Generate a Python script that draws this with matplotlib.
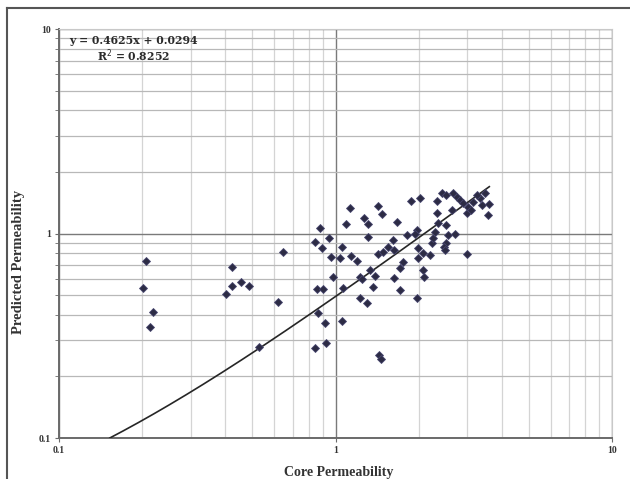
import matplotlib
matplotlib.use('Agg')
import matplotlib.pyplot as plt
import numpy as np
from matplotlib.lines import Line2D
from matplotlib.ticker import FixedLocator, NullFormatter

# data
core_k = [0.207, 0.202, 0.219, 0.213, 0.423, 0.423, 0.454, 0.487, 0.402, 0.647, 0.621, 0.530,
          0.843, 0.924, 1.44, 1.46, 0.867, 0.916, 1.053, 0.855, 0.903, 1.067, 0.982, 0.879,
          0.843, 0.950, 0.891, 0.963, 1.053, 1.038, 1.128, 1.091, 1.135, 1.193, 1.268, 1.308,
          1.42, 1.469, 1.314, 1.226, 1.244, 1.333, 1.389, 1.370, 1.226, 1.297, 1.428, 1.489,
          1.553, 1.618, 1.665, 1.632, 1.758, 1.711, 1.632, 1.711, 1.810, 1.875, 2.02, 1.966,
          1.939, 1.993, 1.993, 2.078, 2.197, 2.078, 2.09, 1.966, 2.23, 2.26, 2.29, 2.32,
          2.35, 2.32, 2.42, 2.52, 2.56, 2.52, 2.47, 2.49, 2.71, 2.63, 2.67, 2.74,
          2.82, 2.90, 2.98, 3.02, 3.15, 3.10, 3.33, 3.38, 3.47, 3.60, 3.57, 2.98,
          3.24, 2.52]
pred_k = [0.736, 0.540, 0.412, 0.350, 0.684, 0.553, 0.581, 0.553, 0.508, 0.815, 0.462, 0.279,
          0.276, 0.290, 0.255, 0.243, 0.407, 0.366, 0.373, 0.533, 0.533, 0.540, 0.611, 1.06,
          0.912, 0.947, 0.846, 0.770, 0.856, 0.756, 1.33, 1.109, 0.776, 0.736, 1.195, 1.113,
          1.367, 1.246, 0.965, 0.615, 0.597, 0.663, 0.620, 0.549, 0.482, 0.459, 0.794, 0.815,
          0.862, 0.929, 1.142, 0.830, 0.728, 0.676, 0.604, 0.529, 0.983, 1.446, 1.486, 1.04,
          0.991, 0.846, 0.756, 0.800, 0.785, 0.663, 0.615, 0.482, 0.896, 0.947, 1.02, 1.255,
          1.12, 1.446, 1.573, 1.10, 0.983, 0.896, 0.862, 0.830, 1.0, 1.30, 1.573, 1.513,
          1.458, 1.405, 1.255, 1.352, 1.43, 1.30, 1.486, 1.378, 1.573, 1.394, 1.23, 0.794,
          1.542, 1.542]

slope = 0.4625
intercept = 0.0294
x_start, x_end = 0.1527, 3.6

serif = ['Liberation Serif', 'DejaVu Serif']
serif_wide = ['DejaVu Serif']

fig = plt.figure(figsize=(6.3, 4.79), dpi=100)
ax = fig.add_axes([59 / 630, 1 - 438 / 479, 553 / 630, 409 / 479])
ax.set_xscale('log')
ax.set_yscale('log')
ax.set_xlim(0.1, 10)
ax.set_ylim(0.1, 10)

# grid
minors = [k * d for d in (0.1, 1) for k in range(2, 10)]
ax.xaxis.set_minor_locator(FixedLocator(minors))
ax.yaxis.set_minor_locator(FixedLocator(minors))
ax.xaxis.set_minor_formatter(NullFormatter())
ax.yaxis.set_minor_formatter(NullFormatter())
ax.grid(True, which='major', color='#7a7a7a', lw=1.0)
ax.xaxis.grid(True, which='minor', color='#d4d4d4', lw=0.9)
ax.yaxis.grid(True, which='minor', color='#b8b8b8', lw=0.9)
ax.set_axisbelow(True)

# trendline
xt = np.logspace(np.log10(x_start), np.log10(x_end), 200)
ax.plot(xt, slope * xt + intercept, color='#262626', lw=1.2, zorder=3)

ax.plot(core_k, pred_k, linestyle='none', marker='D', markersize=4.3,
        markerfacecolor='#2c2b44', markeredgecolor='#47466f', markeredgewidth=0.6, zorder=4)

for side in ('top', 'right'):
    ax.spines[side].set_color('#c8c8c8')
for side in ('left', 'bottom'):
    ax.spines[side].set_color('#6a6a6a')
    ax.spines[side].set_linewidth(1.4)

ax.set_xticks([0.1, 1, 10])
ax.set_yticks([0.1, 1, 10])
ax.set_xticklabels(['0.1', '1', '10'])
ax.set_yticklabels(['0.1', '1', '10'])
ax.tick_params(axis='both', which='major', length=3, color='#6a6a6a', labelsize=7, pad=3)
ax.tick_params(axis='x', which='minor', length=0)
ax.tick_params(axis='y', which='minor', length=3, color='#6a6a6a')
for lab in ax.get_xticklabels() + ax.get_yticklabels():
    lab.set_family(serif)
    lab.set_fontweight('bold')
    lab.set_color('#333333')

ax.set_xlabel('Core Permeability', family=serif, fontweight='bold', fontsize=10, color='#333333')
ax.set_ylabel('Predicted Permeability', family=serif, fontweight='bold', fontsize=10.5, color='#333333')
ax.xaxis.set_label_coords(0.505, -0.068)
ax.yaxis.set_label_coords(-0.062, 0.43)

ax.text(0.134, 0.971, 'y = 0.4625x + 0.0294', transform=ax.transAxes, ha='center', va='center',
        family=serif_wide, fontweight='bold', fontsize=7.8, color='#2a2a2a')
ax.text(0.134, 0.935, 'R$^2$ = 0.8252', transform=ax.transAxes, ha='center', va='center',
        family=serif_wide, fontweight='bold', fontsize=7.8, color='#2a2a2a')

# outer frame of the picture
fx0 = 7 / 630
fy0 = 1 - 8 / 479
fig.add_artist(Line2D([fx0, fx0], [0, fy0], transform=fig.transFigure, color='#555555', lw=1.5))
fig.add_artist(Line2D([fx0, 1], [fy0, fy0], transform=fig.transFigure, color='#555555', lw=1.5))

fig.savefig('out.png', dpi=100)
